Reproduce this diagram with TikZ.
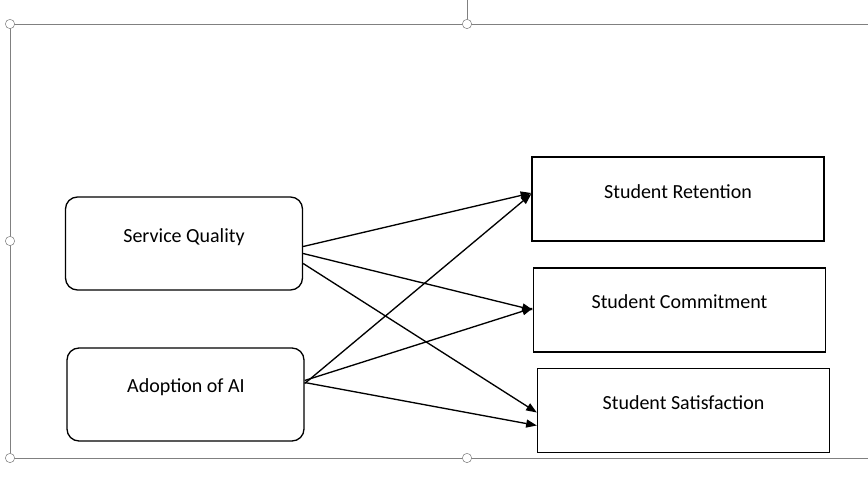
\documentclass[tikz,border=0pt]{standalone}
\usepackage{fontspec}
\setmainfont{Carlito}
\usetikzlibrary{arrows.meta}
\begin{document}
\begin{tikzpicture}[x=0.75pt,y=-0.75pt,
  rbox/.style={draw,line width=1pt,rounded corners=9pt,minimum width=237*0.75pt,minimum height=93*0.75pt},
  sbox/.style={draw,line width=1pt,minimum width=292*0.75pt,minimum height=84*0.75pt},
  lbl/.style={font=\fontsize{15}{18}\selectfont,inner sep=0pt},
  arr/.style={line width=1pt,-{Triangle[length=8pt,width=6pt]}},
  handle/.style={circle,draw=gray,fill=white,inner sep=0pt,minimum size=7pt}]
\useasboundingbox (0,0) rectangle (868,483);
\draw[gray] (868,24) -- (10,24) -- (10,458) -- (868,458);
\draw[gray] (467,0) -- (467,24);
\foreach \p/\n in {{(10,24)}/h1,{(467,24)}/h2,{(10,241)}/h3,{(10,458)}/h4,{(467,458)}/h5}
  \node[handle] (\n) at \p {};
\node[rbox] (sq) at (184,243.5) {};
\node[rbox] (ai) at (185.5,394.5) {};
\node[sbox] (sr) at (678,199) {};
\node[sbox] (sc) at (679.5,310) {};
\node[sbox] (ss) at (683.5,410.5) {};
\node[lbl] (tsq) at (184,237) {Service Quality};
\node[lbl] (tai) at (186,387) {Adoption of AI};
\node[lbl] (tsr) at (678,192) {Student Retention};
\node[lbl] (tsc) at (679.5,302) {Student Commitment};
\node[lbl] (tss) at (683.5,403) {Student Satisfaction};
\draw[arr] ([yshift=-3*0.75pt]sq.east) -- ([yshift=6*0.75pt]sr.west);
\draw[arr] ([yshift=-10*0.75pt]sq.east) -- ([yshift=0]sc.west);
\draw[arr] ([yshift=-20*0.75pt]sq.east) -- ([yshift=-2*0.75pt]ss.west);
\draw[arr] ([yshift=11*0.75pt]ai.east) -- ([yshift=5*0.75pt]sr.west);
\draw[arr] ([yshift=14*0.75pt]ai.east) -- ([yshift=2*0.75pt]sc.west);
\draw[arr] ([yshift=12*0.75pt]ai.east) -- ([yshift=-15*0.75pt]ss.west);
\end{tikzpicture}
\end{document}
